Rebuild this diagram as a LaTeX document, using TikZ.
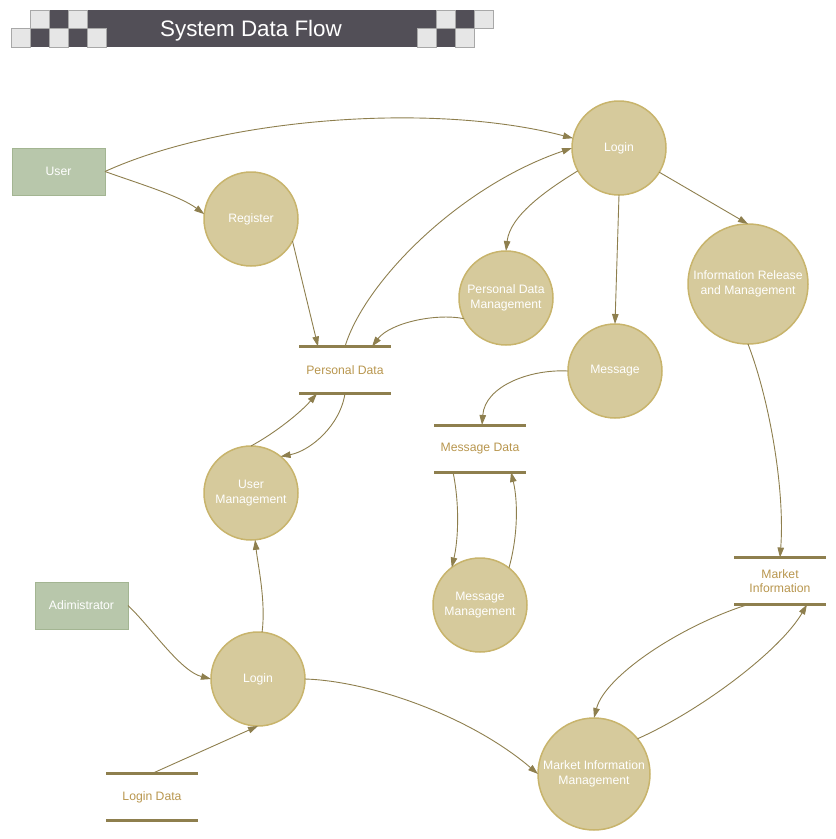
\documentclass[tikz,border=0pt]{standalone}
\usepackage{fontspec}
\setmainfont{Liberation Sans}
\usetikzlibrary{arrows.meta,calc}
\definecolor{procfill}{HTML}{D6CA9C}
\definecolor{procline}{HTML}{C8B46C}
\definecolor{entfill}{HTML}{B8C7AB}
\definecolor{entline}{HTML}{A3B592}
\definecolor{lnc}{HTML}{8E7F4E}
\definecolor{storetext}{HTML}{B8964E}
\definecolor{bardark}{HTML}{524F57}
\definecolor{barlight}{HTML}{E6E6E6}
\definecolor{barline}{HTML}{A8A8A8}
\begin{document}
\begin{tikzpicture}[x=1pt,y=-1pt,
  proc/.style={circle, fill=procfill, draw=procline, line width=1.5pt, minimum size=94pt, inner sep=0pt, outer sep=0pt, text=white, font=\fontsize{12.2}{14.5}\selectfont, align=center},
  ent/.style={rectangle, fill=entfill, draw=entline, line width=1pt, minimum width=93pt, minimum height=47pt, inner sep=0pt, outer sep=0pt, text=white, font=\fontsize{12.2}{14.5}\selectfont},
  store/.style={rectangle, minimum width=92pt, minimum height=47pt, inner sep=0pt, outer sep=0pt, text=storetext, align=center, font=\fontsize{12.2}{14.5}\selectfont},
  storeline/.style={draw=lnc, line width=3pt},
  flow/.style={draw=lnc, line width=0.9pt, -{Triangle[length=10pt,width=6.5pt]}},
  lsq/.style={fill=barlight, draw=barline, line width=0.6pt}]
\useasboundingbox (0,0) rectangle (836,839);
% title bar
\fill[bardark] (30,10) rectangle (474,47);
\foreach \x in {30,68,436,474} \filldraw[lsq] (\x,10) rectangle ++(19,18.5);
\foreach \x in {11,49,87,417,455} \filldraw[lsq] (\x,28.5) rectangle ++(19,18.5);
\node[font=\fontsize{22.4}{26}\selectfont, text=white] (title) at (251,30.5) {System Data Flow};
% entities
\node[ent] (user) at (58.5,171.5) {User};
\node[ent] (admin) at (81.5,605.5) {Adimistrator};
% processes
\node[proc] (login1) at (619,148) {Login};
\node[proc] (reg) at (251,219) {Register};
\node[proc] (pdm) at (506,298) {Personal Data\\Management};
\node[proc] (msg) at (615,371) {Message};
\node[proc, minimum size=120pt] (irm) at (748,284) {Information Release\\and Management};
\node[proc] (um) at (251,493) {User\\Management};
\node[proc] (mm) at (480,605) {Message\\Management};
\node[proc] (login2) at (258,679) {Login};
\node[proc, minimum size=112pt] (mim) at (594,774) {Market Information\\Management};
% data stores
\node[store] (pd) at (345,370) {Personal Data};
\node[store] (md) at (480,448.5) {Message Data};
\node[store] (mi) at (780,581) {Market\\Information};
\node[store] (ld) at (152,797) {Login Data};
\foreach \s in {pd,md,mi,ld} {
  \draw[storeline] (\s.north west) -- (\s.north east);
  \draw[storeline] (\s.south west) -- (\s.south east);
}
% flows
\draw[flow] (user.east) .. controls (220,119) and (430,101) .. (login1.168);
\draw[flow] (user.east) .. controls (140,184) and (180,196) .. (reg.174);
\draw[flow] (reg.-28) -- ([xshift=-27pt]pd.north);
\draw[flow] (pd.north) .. controls (365,281) and (460,186) .. (login1.180);
\draw[flow] (login1.209) .. controls (545,191) and (510,216) .. (pdm.north);
\draw[flow] (pdm.206) .. controls (435,313) and (390,323) .. ([xshift=27pt]pd.north);
\draw[flow] (login1.south) -- (msg.north);
\draw[flow] (login1.-31) -- (irm.north);
\draw[flow] (msg.west) .. controls (530,369) and (485,386) .. ([xshift=2pt]md.north);
\draw[flow] (pd.south) .. controls (340,426) and (310,451) .. (um.51);
\draw[flow] (um.north) .. controls (275,433) and (300,413) .. ([xshift=-28pt]pd.south);
\draw[flow] ([xshift=-27pt]md.south) .. controls (460,506) and (458,541) .. (mm.127);
\draw[flow] (mm.52) .. controls (518,536) and (518,501) .. ([xshift=31pt]md.south);
\draw[flow] (irm.south) .. controls (770,401) and (785,491) .. (mi.north);
\draw[flow] ([xshift=-32pt]mi.south) .. controls (680,626) and (605,676) .. (mim.north);
\draw[flow] (mim.39) .. controls (700,711) and (780,651) .. ([xshift=27pt]mi.south);
\draw[flow] (admin.east) .. controls (150,626) and (180,671) .. (login2.west);
\draw[flow] (login2.85) .. controls (266,601) and (258,566) .. (um.-85);
\draw[flow] (ld.north) -- (login2.south);
\draw[flow] (login2.east) .. controls (370,681) and (470,716) .. (mim.west);
\end{tikzpicture}
\end{document}
